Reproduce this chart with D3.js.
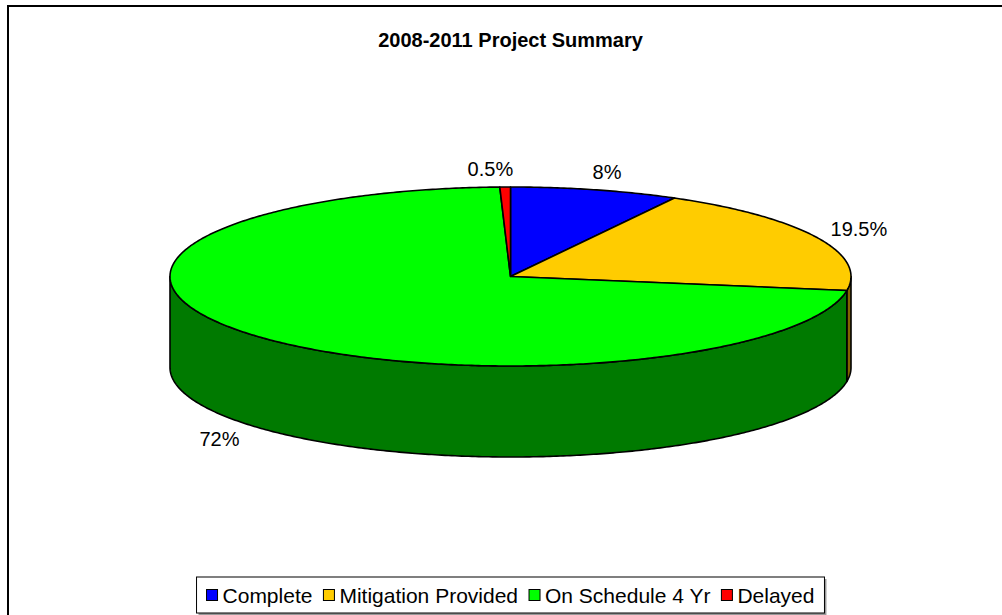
<!DOCTYPE html>
<html>
<head>
<meta charset="utf-8">
<script src="https://cdn.jsdelivr.net/npm/d3@7"></script>
<style>
  body { margin: 0; background: #fff; }
  text { font-family: "Liberation Sans", Arial, sans-serif; fill: #000; }
</style>
</head>
<body>
<div id="chart"></div>
<script>
var width = 1002,
    height = 615;

// chart data
var categories = ["Complete", "Mitigation Provided", "On Schedule 4 Yr", "Delayed"];
var values = [8, 19.5, 72, 0.5];
var labels = ["8%", "19.5%", "72%", "0.5%"];
var topColors = ["#0000ff", "#ffcc00", "#00ff00", "#ff0000"];
var sideColors = ["#000080", "#806600", "#007a00", "#800000"];

var svg = d3.select("#chart").append("svg")
    .attr("width", width)
    .attr("height", height);

// outer frame (right and bottom edges fall outside the picture)
svg.append("rect")
    .attr("x", 8).attr("y", 6)
    .attr("width", 1010).attr("height", 640)
    .attr("fill", "none")
    .attr("stroke", "#000")
    .attr("stroke-width", 2);

svg.append("text")
    .attr("x", 510.5).attr("y", 47)
    .attr("text-anchor", "middle")
    .style("font-size", "20px")
    .style("font-weight", "bold")
    .text("2008-2011 Project Summary");

// ellipse geometry of the tilted pie
var cx = 510.5, cy = 276.5, rx = 340.5, ry = 89.5, depth = 91;

function pt(a, dy) {
  return [cx + rx * Math.sin(a), cy - ry * Math.cos(a) + (dy || 0)];
}

function arcPoints(a0, a1, dy) {
  var n = Math.max(2, Math.ceil(Math.abs(a1 - a0) / 0.01));
  return d3.range(n + 1).map(function(i) { return pt(a0 + (a1 - a0) * i / n, dy); });
}

var pie = d3.pie().sort(null).value(function(d) { return d; });
var arcs = pie(values);

var line = d3.line();

// side walls: only the front half (pi/2 .. 3pi/2) is visible
var sides = svg.append("g");
arcs.forEach(function(d, i) {
  var a0 = Math.max(d.startAngle, Math.PI / 2),
      a1 = Math.min(d.endAngle, Math.PI * 1.5);
  if (a1 <= a0) return;
  var pts = arcPoints(a0, a1, 0).concat(arcPoints(a1, a0, depth));
  sides.append("path")
      .attr("d", line(pts) + "Z")
      .attr("fill", sideColors[i])
      .attr("stroke", "#000")
      .attr("stroke-width", 1.6)
      .attr("stroke-linejoin", "round");
});

// top faces
var tops = svg.append("g");
arcs.forEach(function(d, i) {
  var pts = [[cx, cy]].concat(arcPoints(d.startAngle, d.endAngle, 0));
  tops.append("path")
      .attr("d", line(pts) + "Z")
      .attr("fill", topColors[i])
      .attr("stroke", "#000")
      .attr("stroke-width", 1.6)
      .attr("stroke-linejoin", "round");
});

// data labels outside each slice
arcs.forEach(function(d, i) {
  var m = (d.startAngle + d.endAngle) / 2;
  var x = cx + 388 * Math.sin(m),
      y = cy - 108 * Math.cos(m) + (Math.cos(m) < 0 ? depth : 0);
  if (Math.abs(Math.sin(m)) < 0.1) x -= 14;   // nudge tiny slice label
  svg.append("text")
      .attr("x", x).attr("y", y)
      .attr("dy", "0.35em")
      .attr("text-anchor", "middle")
      .style("font-size", "20px")
      .text(labels[i]);
});

// legend
var legend = svg.append("g");
var sw = 11, gapS = 5, gapI = 11, pad = 10;
var items = legend.selectAll("g").data(categories).enter().append("g");
items.append("rect")
    .attr("width", sw).attr("height", sw)
    .attr("fill", function(d, i) { return topColors[i]; })
    .attr("stroke", "#000").attr("stroke-width", 1);
items.append("text")
    .attr("x", sw + gapS).attr("y", sw / 2)
    .attr("dy", "0.36em")
    .style("font-size", "21px")
    .text(function(d) { return d; });

var xpos = 0, offs = [];
items.each(function() {
  offs.push(xpos);
  var tw = d3.select(this).select("text").node().getComputedTextLength();
  xpos += sw + gapS + tw + gapI;
});
var contentW = xpos - gapI;
var boxW = contentW + pad * 2, boxH = 36;
var boxX = 510.5 - boxW / 2, boxY = 577;

legend.insert("rect", ":first-child")
    .attr("x", boxX + 2).attr("y", boxY + 2)
    .attr("width", boxW).attr("height", boxH)
    .attr("fill", "#999");
legend.insert("rect", "g")
    .attr("x", boxX).attr("y", boxY)
    .attr("width", boxW).attr("height", boxH)
    .attr("fill", "#fff")
    .attr("stroke", "#000").attr("stroke-width", 1);

items.attr("transform", function(d, i) {
  return "translate(" + (boxX + pad + offs[i]) + "," + (boxY + boxH / 2 - sw / 2) + ")";
});
</script>
</body>
</html>
